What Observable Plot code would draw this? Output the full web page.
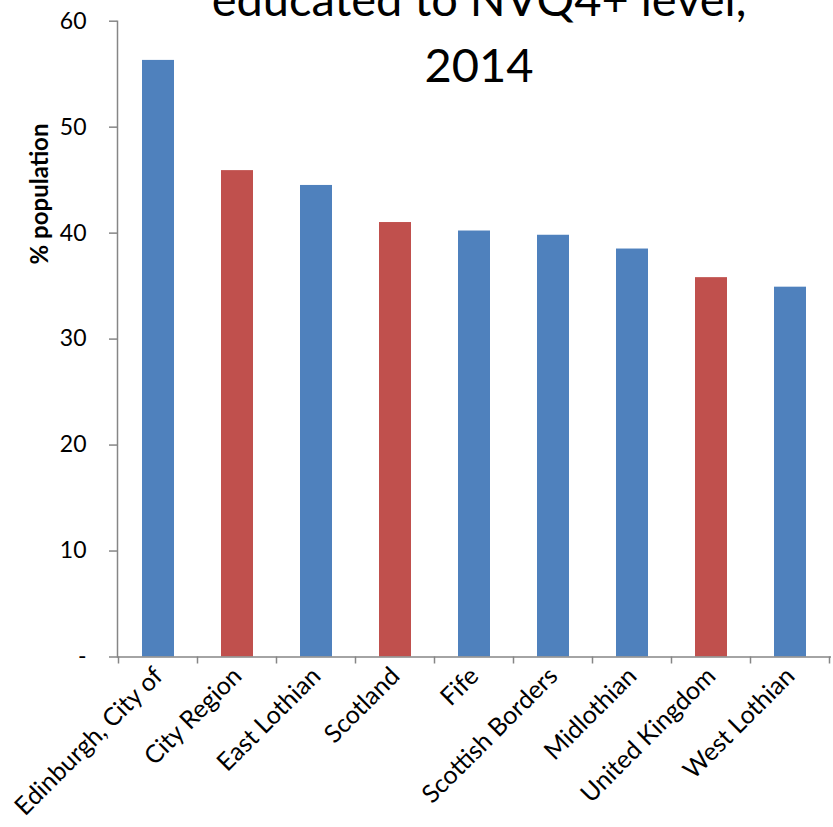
<!DOCTYPE html>
<html>
<head>
<meta charset="utf-8">
<script src="https://cdn.jsdelivr.net/npm/d3@7"></script>
<script src="https://cdn.jsdelivr.net/npm/@observablehq/plot@0.6"></script>
<style>
  html, body { margin: 0; padding: 0; background: #fff; overflow: hidden; }
  #chart { position: relative; width: 833px; height: 827px; }
</style>
</head>
<body>
<div id="chart"></div>
<script>
const categories = ["Edinburgh, City of", "City Region", "East Lothian", "Scotland", "Fife", "Scottish Borders", "Midlothian", "United Kingdom", "West Lothian"];
const values = [56.3, 45.9, 44.5, 41.0, 40.2, 39.8, 38.5, 35.8, 34.9];
const groups = ["area", "comparator", "area", "comparator", "area", "area", "area", "comparator", "area"];
const yTicks = [0, 10, 20, 30, 40, 50, 60];
const yTickLabels = ["-", "10", "20", "30", "40", "50", "60"];
const titleLines = ["educated to NVQ4+ level,", "2014"];
const yLabel = "% population";

const data = categories.map((c, i) => ({category: c, value: values[i], group: groups[i]}));
const axisGray = "#868686";

const plot = Plot.plot({
  width: 833,
  height: 827,
  marginLeft: 117,
  marginRight: 2,
  marginTop: 20.7,
  marginBottom: 170.5,
  style: {fontFamily: "Lato, 'Open Sans', sans-serif", fontSize: "23px", color: "#000", background: "#fff"},
  x: {domain: categories, paddingInner: 0.6, paddingOuter: 0.3},
  y: {domain: [0, 60]},
  color: {domain: ["area", "comparator"], range: ["#4F81BD", "#C0504D"]},
  marks: [
    Plot.barY(data, {x: "category", y: "value", fill: "group"}),
    Plot.ruleY([0], {stroke: axisGray, strokeWidth: 1.5}),
    Plot.frame({anchor: "left", stroke: axisGray, strokeWidth: 1.5}),
    Plot.axisY({
      ticks: yTicks,
      tickFormat: d => yTickLabels[yTicks.indexOf(d)],
      tickSize: 8,
      tickPadding: 23,
      stroke: axisGray,
      strokeWidth: 1.5,
      fill: "#000",
      fontSize: 23,
      label: null
    }),
    Plot.axisX({
      tickSize: 0,
      tickRotate: -45,
      tickPadding: 15,
      fill: "#000",
      fontSize: 25,
      label: null
    })
  ]
});

document.getElementById("chart").appendChild(plot);

const svg = d3.select(plot);
const xs = plot.scale("x");
const step = xs.step, bw = xs.bandwidth;
const y0 = plot.scale("y").apply(0);
// category boundary tick marks on the x axis
const bounds = categories.map(c => xs.apply(c) - (step - bw) / 2);
bounds.push(bounds[bounds.length - 1] + step);
svg.append("g")
  .selectAll("line")
  .data(bounds)
  .join("line")
  .attr("x1", d => d).attr("x2", d => d)
  .attr("y1", y0).attr("y2", y0 + 7)
  .attr("stroke", axisGray).attr("stroke-width", 1.5);

// y axis title
svg.append("text")
  .attr("transform", "translate(48,194) rotate(-90)")
  .attr("text-anchor", "middle")
  .attr("font-family", "Lato, sans-serif")
  .attr("font-weight", "bold")
  .attr("font-size", 24)
  .attr("fill", "#000")
  .text(yLabel);

// chart title (top line is cut off by the top edge, as in the original)
svg.append("g")
  .attr("font-family", "Lato, sans-serif")
  .attr("font-size", 47)
  .attr("fill", "#000")
  .attr("text-anchor", "middle")
  .selectAll("text")
  .data(titleLines)
  .join("text")
  .attr("x", 479)
  .attr("y", (d, i) => 16 + i * 66)
  .text(d => d);
</script>
</body>
</html>
